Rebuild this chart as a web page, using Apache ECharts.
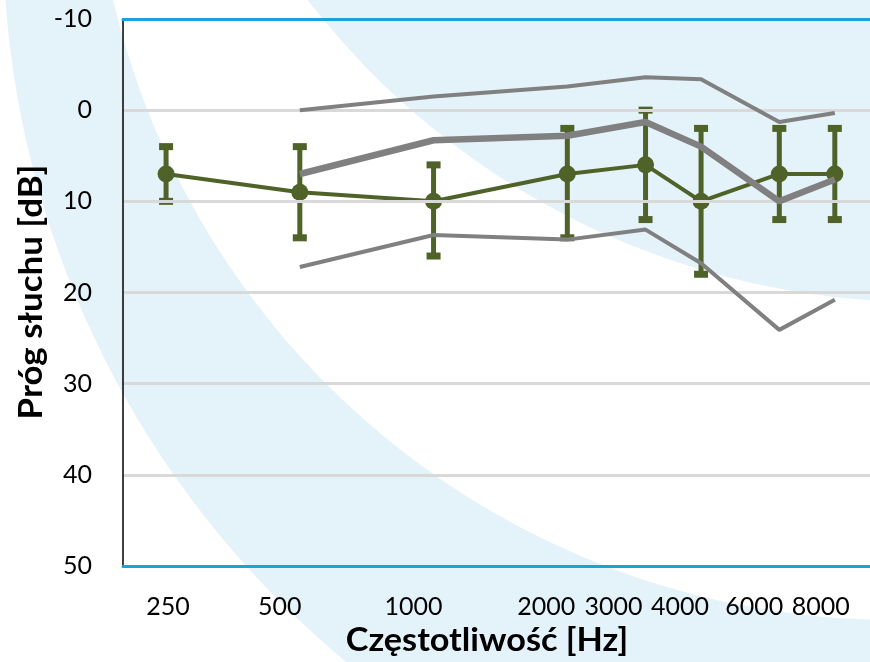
<!DOCTYPE html>
<html>
<head>
<meta charset="utf-8">
<script src="https://cdn.jsdelivr.net/npm/echarts@6/dist/echarts.min.js"></script>
<style>
  html, body { margin: 0; padding: 0; background: #fff; }
  #main { width: 870px; height: 662px; }
</style>
</head>
<body>
<div id="main"></div>
<script>
// czestotliwosci [Hz] i etykiety osi
var freqs = [250, 500, 1000, 2000, 3000, 4000, 6000, 8000];
var freqLabels = ['250', '500', '1000', '2000', '3000', '4000', '6000', '8000'];

// srednia grupy badanej i rozrzut (dolna / gorna granica)
var meanDb = [7, 9, 10, 7, 6, 10, 7, 7];
var lowDb = [4, 4, 6, 2, 0, 2, 2, 2];
var highDb = [10, 14, 16, 14, 12, 18, 12, 12];

// normy (szare linie) od 500 Hz
var normFreqs = [500, 1000, 2000, 3000, 4000, 6000, 8000];
var normUpper = [0, -1.5, -2.6, -3.6, -3.4, 1.3, 0.3];
var normMid = [7, 3.3, 2.8, 1.3, 4, 10, 7.6];
var normLower = [17.2, 13.7, 14.2, 13.1, 16.8, 24.1, 20.8];

var yTicks = [-10, 0, 10, 20, 30, 40, 50];

// przesuniecie etykiet osi X wzgledem punktu (px) - jak w oryginale
var labelShift = [2, -20, -20, -21, -32, -21, -25, -14];

var green = '#4F6228';
var gray = '#808080';
var blue = '#1BA1DC';
var pale = '#E4F2FA';

function pairs(xs, ys) {
  return xs.map(function (x, i) { return [x, ys[i]]; });
}

var rich = {};
labelShift.forEach(function (s, i) {
  rich['s' + i] = {
    fontSize: 25, color: '#000', fontFamily: 'Lato',
    padding: s < 0 ? [0, -2 * s, 0, 0] : [0, 0, 0, 2 * s]
  };
});

var myChart = echarts.init(document.getElementById('main'));

var option = {
  animation: false,
  backgroundColor: '#fff',
  textStyle: { fontFamily: 'Lato' },
  graphic: [
    { type: 'circle', z: -10, silent: true, shape: { cx: 951, cy: -68, r: 948 }, style: { fill: pale } },
    { type: 'circle', z: -9, silent: true, shape: { cx: 895, cy: -183, r: 803 }, style: { fill: '#fff' } },
    { type: 'circle', z: -8, silent: true, shape: { cx: 923, cy: -476, r: 778 }, style: { fill: pale } },
    {
      type: 'text', x: 32, y: 292, rotation: Math.PI / 2, scaleX: 1.09,
      style: {
        text: 'Próg słuchu [dB]', fontFamily: 'Lato', fontWeight: 'bold', fontSize: 32,
        fill: '#000', align: 'center', verticalAlign: 'middle'
      }
    },
    {
      type: 'text', x: 487, y: 641, scaleX: 1.07,
      style: {
        text: 'Częstotliwość [Hz]', fontFamily: 'Lato', fontWeight: 'bold', fontSize: 32,
        fill: '#000', align: 'center', verticalAlign: 'middle'
      }
    }
  ],
  grid: { left: 123, right: 0, top: 19, bottom: 96, show: false },
  xAxis: [
    {
      type: 'log', logBase: 2, min: 200, max: 9600, z: 5,
      axisLine: { show: true, onZero: false, lineStyle: { color: blue, width: 3 } },
      axisTick: { show: false },
      splitLine: { show: false },
      axisLabel: {
        customValues: freqs,
        hideOverlap: false,
        showMinLabel: true,
        showMaxLabel: true,
        margin: 28,
        fontSize: 25,
        color: '#000',
        rich: rich,
        formatter: function (v) {
          var i = freqs.indexOf(Math.round(v));
          return i >= 0 ? '{s' + i + '|' + freqLabels[i] + '}' : '';
        }
      }
    },
    {
      type: 'log', logBase: 2, min: 200, max: 9600, position: 'top', z: 5,
      axisLine: { show: true, onZero: false, lineStyle: { color: blue, width: 3 } },
      axisTick: { show: false },
      axisLabel: { show: false },
      splitLine: { show: false }
    }
  ],
  yAxis: {
    type: 'value', inverse: true, min: yTicks[0], max: yTicks[yTicks.length - 1], interval: 10, z: 4,
    axisLine: { show: true, lineStyle: { color: '#000', width: 1.5 } },
    axisTick: { show: false },
    axisLabel: { fontSize: 25, color: '#000', margin: 31 },
    splitLine: { lineStyle: { color: '#D9D9D9', width: 3 } }
  },
  series: [
    {
      type: 'custom',
      z: 2,
      data: freqs.map(function (f, i) { return [f, lowDb[i], highDb[i]]; }),
      renderItem: function (params, api) {
        var x = api.value(0);
        var lo = api.coord([x, api.value(1)]);
        var hi = api.coord([x, api.value(2)]);
        var cap = 7;
        return {
          type: 'group',
          children: [
            { type: 'line', shape: { x1: lo[0], y1: lo[1], x2: hi[0], y2: hi[1] }, style: { stroke: green, lineWidth: 5 } },
            { type: 'line', shape: { x1: lo[0] - cap, y1: lo[1], x2: lo[0] + cap, y2: lo[1] }, style: { stroke: green, lineWidth: 7 } },
            { type: 'line', shape: { x1: hi[0] - cap, y1: hi[1], x2: hi[0] + cap, y2: hi[1] }, style: { stroke: green, lineWidth: 7 } }
          ]
        };
      }
    },
    {
      type: 'line', z: 3,
      data: pairs(freqs, meanDb),
      symbol: 'circle', symbolSize: 17,
      itemStyle: { color: green },
      lineStyle: { color: green, width: 4 }
    },
    {
      type: 'line', z: 4, symbol: 'none',
      data: pairs(normFreqs, normUpper),
      lineStyle: { color: gray, width: 4 }
    },
    {
      type: 'line', z: 4, symbol: 'none',
      data: pairs(normFreqs, normMid),
      lineStyle: { color: gray, width: 6.5 }
    },
    {
      type: 'line', z: 4, symbol: 'none',
      data: pairs(normFreqs, normLower),
      lineStyle: { color: gray, width: 4 }
    }
  ]
};

myChart.setOption(option);
</script>
</body>
</html>
